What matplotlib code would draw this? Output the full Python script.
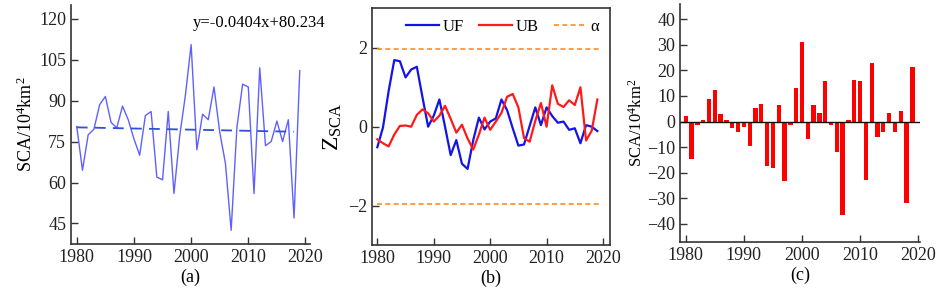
import matplotlib
matplotlib.use("Agg")
import matplotlib.pyplot as plt

plt.rcParams["font.family"] = ["Liberation Serif", "DejaVu Serif"]
plt.rcParams["mathtext.fontset"] = "custom"
plt.rcParams["mathtext.rm"] = "Liberation Serif"
plt.rcParams["mathtext.it"] = "Liberation Serif:italic"

years = list(range(1980, 2020))

# (a) snow cover area, 10^4 km^2
sca = [80.5, 64.5, 77.5, 79.5, 88.5, 91.5, 82, 80, 88, 83,
       76, 70, 84.5, 86, 62, 61, 86, 56, 77, 92,
       110.5, 72, 85, 83, 95, 78.5, 67, 42.5, 80, 96,
       95, 56, 102, 73.5, 75, 82.5, 75, 83, 47, 101]
trend_years = [1980, 2018]
trend_vals = [80.2, 78.6]

# (b) Mann-Kendall statistics
uf = [-0.52, -0.02, 0.9, 1.69, 1.66, 1.25, 1.45, 1.52, 0.75, 0.0,
      0.28, 0.69, 0.0, -0.72, -0.34, -0.94, -1.07, -0.34, 0.23, -0.07,
      0.13, 0.21, 0.69, 0.42, -0.04, -0.48, -0.45, 0.02, 0.49, 0.04,
      0.49, 0.27, 0.10, 0.13, -0.08, -0.04, -0.42, 0.04, 0.0, -0.11]
ub = [-0.32, -0.42, -0.5, -0.2, 0.02, 0.03, 0.0, 0.3, 0.44, 0.34,
      0.13, 0.28, 0.53, 0.2, -0.15, 0.05, -0.3, -0.58, -0.2, 0.23,
      -0.08, 0.13, 0.35, 0.76, 0.83, 0.49, -0.29, -0.38, 0.15, 0.6,
      0.0, 1.05, 0.58, 0.5, 0.67, 0.55, 1.0, -0.35, -0.1, 0.69]
alpha_level = 1.96

# (c) anomaly, 10^4 km^2
anom = [2, -14.5, -1.2, 0.5, 9, 12.5, 3, 0.5, -2.7, -4.2,
        -2, -9.5, 5.2, 6.8, -17.2, -18, 6.5, -23.2, -1.5, 13.2,
        31.3, -7, 6.3, 3.5, 15.7, -1.2, -12, -36.7, 0.5, 16.4,
        16, -23, 22.8, -6, -4.2, 3.3, -4.2, 4, -32, 21.4]

xticks = [1980, 1990, 2000, 2010, 2020]
fs = 13
spine_col = "#333333"

fig = plt.figure(figsize=(9.41, 2.95), dpi=100)
ax1 = fig.add_axes([0.0755, 0.173, 0.254, 0.81])
ax2 = fig.add_axes([0.395, 0.1695, 0.253, 0.802])
ax3 = fig.add_axes([0.7226, 0.1807, 0.255, 0.806])

for ax in (ax1, ax2, ax3):
    ax.tick_params(direction="in", labelsize=fs, length=5, width=1,
                   color=spine_col, labelcolor="#222222")
    for s in ax.spines.values():
        s.set_color(spine_col)
        s.set_linewidth(1.2)
    ax.set_xticks(xticks)

# (a)
ax1.plot(years, sca, color="#6060ff", lw=1.0)
ax1.plot(trend_years, trend_vals, color="#3050d8", lw=1.3, ls=(0, (6, 4)))
ax1.set_xlim(1979, 2020.8)
ax1.set_ylim(37.5, 125)
ax1.set_yticks([45, 60, 75, 90, 105, 120])
ax1.spines["top"].set_visible(False)
ax1.spines["right"].set_visible(False)
ax1.set_ylabel("SCA/10$^4$km$^2$", fontsize=13, labelpad=2)
ax1.set_xlabel("(a)", fontsize=13, labelpad=2)
ax1.text(2000.3, 118.5, "y=-0.0404x+80.234", fontsize=12, ha="left",
         va="center", clip_on=False)

# (b)
ax2.plot(years, uf, color="#1414e6", lw=1.6, label="UF")
ax2.plot(years, ub, color="#ff1a1a", lw=1.6, label="UB")
ax2.plot([1980, 2019.5], [alpha_level, alpha_level], color="#ff8c26",
         lw=1.2, ls=(0, (3, 2)), label="α")
ax2.plot([1980, 2019.5], [-alpha_level, -alpha_level], color="#ff8c26",
         lw=1.2, ls=(0, (3, 2)))
ax2.set_xlim(1979, 2021.2)
ax2.set_ylim(-3, 3)
ax2.set_yticks([-2, 0, 2])
ax2.set_ylabel(r"Z$_{\mathrm{SCA}}$", fontsize=17, labelpad=3)
ax2.set_xlabel("(b)", fontsize=13, labelpad=2)
ax2.legend(loc="upper right", ncol=3, frameon=False, fontsize=12,
           handlelength=2.0, handletextpad=0.2, columnspacing=0.9,
           borderaxespad=0.25)

# (c)
ax3.bar(years, anom, width=0.75, color="#ff0000")
ax3.axhline(0, color="#111111", lw=1.0)
ax3.set_xlim(1979, 2020.3)
ax3.set_ylim(-47, 46)
ax3.set_yticks([-40, -30, -20, -10, 0, 10, 20, 30, 40])
ax3.spines["top"].set_visible(False)
ax3.spines["right"].set_visible(False)
ax3.set_ylabel("SCA/10$^4$km$^2$", fontsize=12, labelpad=1)
ax3.set_xlabel("(c)", fontsize=13, labelpad=2)

fig.savefig("out.png", dpi=100)
